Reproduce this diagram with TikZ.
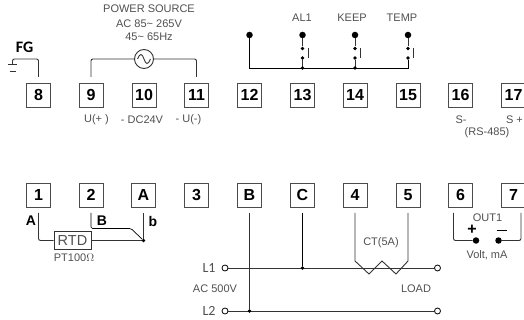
\documentclass[tikz,border=0pt]{standalone}
\usepackage{fontspec}
\setmainfont{Liberation Sans}
\newfontfamily\narrowfont{Carlito}
\definecolor{lab}{HTML}{505050}
\definecolor{wire}{HTML}{333333}
\tikzset{
 x=1pt,y=-1pt,
 term/.style={draw=black!70,line width=.9pt,minimum size=24pt,inner sep=0pt,font=\bfseries\fontsize{16}{16}\selectfont},
 lab/.style={text=lab,inner sep=0pt,font=\fontsize{11}{12}\selectfont},
 blab/.style={text=black,inner sep=0pt,font=\bfseries\fontsize{14}{14}\selectfont},
 wire/.style={draw=wire,line width=.9pt},
 soft/.style={wire,rounded corners=2pt},
 big/.style={circle,fill=black,inner sep=0pt,minimum size=6.5pt},
 small/.style={circle,fill=black,inner sep=0pt,minimum size=3.6pt},
 open/.style={circle,draw=black,fill=white,line width=.8pt,inner sep=0pt,minimum size=6pt},
}
\begin{document}
\begin{tikzpicture}
\useasboundingbox (0,0) rectangle (524,320);
% terminals
\foreach \n/\t/\x in {t8/8/38.5,t9/9/91,t10/10/144,t11/11/196.5,t12/12/249.5,t13/13/302.5,t14/14/355,t15/15/408,t16/16/460.5,t17/17/513.5}
  \node[term] (\n) at (\x,95) {\t};
\foreach \n/\t/\x in {b1/1/38.5,b2/2/91,bA/A/143.5,b3/3/196.5,bB/B/249.5,bC/C/302.5,b4/4/355,b5/5/408,b6/6/460.5,b7/7/513.5}
  \node[term] (\n) at (\x,195) {\t};
% FG
\node[blab,font=\narrowfont\bfseries\fontsize{16}{16}\selectfont] (fg) at (24.5,47) {FG};
\coordinate (g8) at (38.5,77);
\coordinate (gc) at (12.5,59);
\draw[soft] (g8) |- (gc) -- (12.5,64);
\draw[wire] (8,64.5) -- (17,64.5) (9.5,71) -- (15.5,71);
% power
\node[lab] (ps1) at (149,9) {POWER SOURCE};
\node[lab] (ps2) at (149,24) {AC 85\raisebox{.5pt}{\textasciitilde} 265V};
\node[lab] (ps3) at (149,37) {45\raisebox{.5pt}{\textasciitilde} 65Hz};
\node[circle,draw=wire,line width=.9pt,minimum size=19pt,inner sep=0pt] (ac) at (144,59) {};
\draw[wire] (137.5,59) .. controls (140,53) and (142,53) .. (144,59) .. controls (146,65) and (148,65) .. (150.5,59);
\coordinate (p9) at (91,77); \coordinate (p11) at (196.5,77);
\draw[soft] (p9) |- (ac.west);
\draw[soft] (p11) |- (ac.east);
\node[lab] at (96.5,120) {U(+ )};
\node[lab] at (142,120) {- DC24V};
\node[lab] at (188.5,120) {- U(-)};
% switches
\node[big] (d12) at (249.5,35) {};
\coordinate (c12) at (249.5,68);
\foreach \n/\x/\l/\lx in {13/302.5/AL1/302,14/355/KEEP/352,15/408/TEMP/402}{
  \node[lab] at (\lx,18) {\l};
  \node[big] (d\n) at (\x,35) {};
  \node[small] (u\n) at (\x,48.5) {};
  \node[small] (m\n) at (\x,58) {};
  \coordinate (c\n) at (\x,68);
  \draw[wire] (d\n) -- (u\n);
  \draw[wire] (m\n) -- (c\n);
  \draw[wire,line width=.8pt] ([xshift=5.5pt]u\n.center) ++(0,0) -- ([xshift=5.5pt]m\n.center);
}
\draw[wire,black,line width=.8pt] (d12) -- (c12) -- (c15) -- (m15);
\node[small] at (c13) {};
\node[small] at (c14) {};
% RS485
\node[lab] at (461,120) {S-};
\node[lab] at (514.5,120) {S +};
\node[lab] at (487,133) {(RS-485)};
% RTD
\node[blab] at (31,221) {A};
\node[blab] at (102,221) {B};
\node[blab] at (153,221) {b};
\coordinate (w1) at (38.5,213);
\coordinate (w2) at (91,213);
\coordinate (w3) at (143.5,213);
\node[draw=wire,line width=.9pt,minimum width=37pt,minimum height=18pt,inner sep=0pt,text=lab,font=\fontsize{14.5}{15}\selectfont] (rtd) at (72.5,240.5) {RTD};
\node[small] (j) at (143.5,240.5) {};
\draw[soft] (w1) |- (rtd.west);
\draw[wire] (rtd.east) -- (j);
\draw[wire] (w3) -- (j);
\coordinate (k1) at (131,228.5);
\draw[wire,black,line width=.7pt,rounded corners=1.5pt] (w2) |- (k1) -- (j);
\node[lab] at (74,258) {PT100$\Omega$};
% lines
\node[text=lab,inner sep=0pt,font=\narrowfont\fontsize{14}{14}\selectfont] at (209,268) {L1};
\node[text=lab,inner sep=0pt,font=\narrowfont\fontsize{14}{14}\selectfont] at (209,311) {L2};
\node[lab] at (215,289) {AC 500V};
\node[open] (l1a) at (225,268) {};
\node[open] (l1b) at (437.5,268) {};
\node[open] (l2a) at (225,311) {};
\node[open] (l2b) at (437.5,311) {};
\draw[wire] (l1a) -- (l1b);
\draw[wire] (l2a) -- (l2b);
\coordinate (wB) at (249.5,213);
\coordinate (wC) at (302.5,213);
\node[small] (jB) at (249.5,311) {};
\node[small] (jC) at (302.5,268) {};
\draw[wire,line width=1.1pt] (wB) -- (jB);
\draw[wire,black] (wC) -- (jC);
% CT
\coordinate (w4) at (355,213);
\coordinate (w5) at (408,213);
\draw[wire] (w4) -- (355,261) -- (369,274) -- (382,261) -- (396,274) -- (408,261) -- (w5);
\node[lab] at (381,243) {CT(5A)};
\node[lab] at (416,289) {LOAD};
% OUT
\coordinate (w6) at (453.5,213);
\coordinate (w7) at (521,213);
\node[big] (o1) at (476,240.5) {};
\node[big] (o2) at (498.5,240.5) {};
\draw[soft] (w6) |- (o1);
\draw[soft] (w7) |- (o2);
\node[lab] at (487.5,218) {OUT1};
\node[blab,font=\bfseries\fontsize{16}{16}\selectfont] at (472,230) {+};
\draw[black,line width=1.2pt] (496.5,230.5) -- (506.5,230.5);
\node[lab] at (487,255) {Volt, mA};
\end{tikzpicture}
\end{document}
